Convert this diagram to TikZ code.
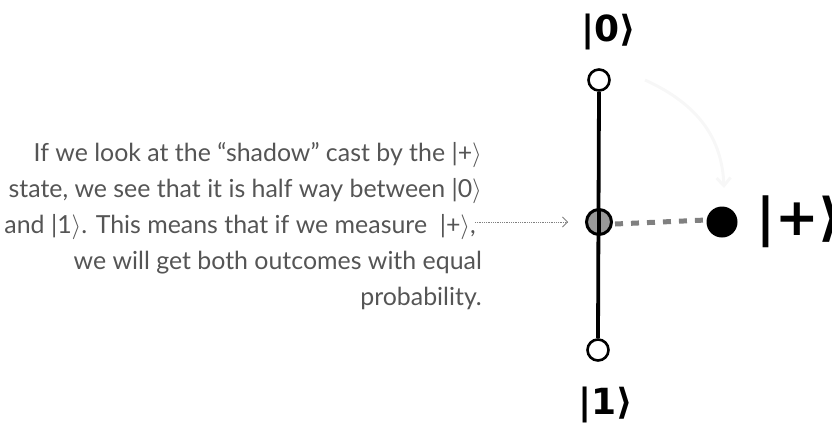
\documentclass[tikz,border=0pt]{standalone}
\usepackage{fontspec}
\setmainfont{Lato}
\newfontfamily\handfont{DejaVu Sans}
\usetikzlibrary{arrows.meta}
\newcommand{\myket}[1]{|#1\ensuremath{\rangle}}
\definecolor{txtgray}{HTML}{555555}
\tikzset{
  bodytxt/.style={anchor=base east, inner sep=0pt, text=txtgray, font=\fontsize{24.9}{36}\selectfont},
  hand/.style={inner sep=0pt, font=\handfont\bfseries},
  openpt/.style={circle, draw=black, line width=2.6pt, fill=white, minimum size=21pt, inner sep=0pt},
  midpt/.style={circle, draw=black, line width=3pt, fill=gray!80, minimum size=25pt, inner sep=0pt},
  statept/.style={circle, fill=black, minimum size=31pt, inner sep=0pt},
}
\begin{document}
\begin{tikzpicture}[x=1pt,y=-1pt]
\useasboundingbox (0,0) rectangle (832,429);
% explanatory text
\node[bodytxt] (l1) at (482,161) {If we look at the “shadow” cast by the \myket{+}};
\node[bodytxt] (l2) at (482,197) {state, we see that it is half way between \myket{0}};
\node[bodytxt] (l3) at (476,233) {and \myket{1}. This means that if we measure \ \myket{+},};
\node[bodytxt] (l4) at (482,269) {we will get both outcomes with equal};
\node[bodytxt] (l5) at (482,305) {probability.};
% faint arc
\draw[gray!6, line width=3pt, -{Straight Barb[length=8pt,width=14pt]}] (645,80) .. controls (700,105) and (722,140) .. (724,188);
% axis
\node[openpt] (zero) at (599,80) {};
\node[openpt] (one) at (598,350) {};
\draw[line width=3.8pt] (zero.south) -- (one.north);
\node[statept] (plus) at (722,222) {};
\node[midpt] (mid) at (599,222) {};
\draw[line width=3.8pt] (599,209) -- (599,235);
\draw[gray, line width=5pt, dash pattern=on 8pt off 8pt] (mid.east) ++(2,2) -- ([yshift=2pt]plus.west);
% dotted pointer
\coordinate (ptr) at (475,222);
\draw[gray, densely dotted, line width=0.8pt, -{Straight Barb[length=5pt,width=10pt,line width=0.8pt]}] (ptr) -- (568,222);
% handwritten labels
\node[hand, font=\handfont\bfseries\fontsize{36}{36}\selectfont] (lab0) at (609,32) {|0\symbol{"27E9}};
\node[hand, font=\handfont\bfseries\fontsize{36}{36}\selectfont] (lab1) at (606,405) {|1\symbol{"27E9}};
\node[hand, anchor=west, font=\handfont\bfseries\fontsize{52}{52}\selectfont] (labp) at (756,222) {|+\symbol{"27E9}};
\end{tikzpicture}
\end{document}
